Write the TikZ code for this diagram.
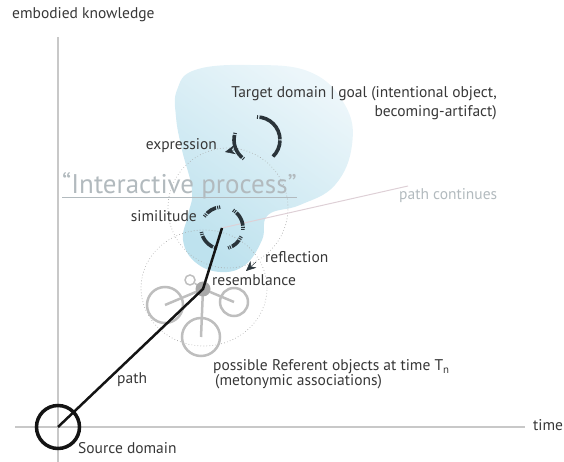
\documentclass[tikz,border=0pt]{standalone}
\usepackage{fontspec}
\setmainfont{PT Sans}
\usetikzlibrary{arrows.meta, positioning}

\definecolor{inkdark}{RGB}{42,52,58}
\definecolor{axisgray}{RGB}{200,200,200}
\definecolor{refgray}{RGB}{190,190,190}
\definecolor{hubgray}{RGB}{168,168,168}
\definecolor{blobtop}{RGB}{236,246,250}
\definecolor{blobbottom}{RGB}{190,226,238}
\definecolor{labelgray}{RGB}{55,55,55}
\definecolor{softgray}{RGB}{178,186,190}
\definecolor{pinkgray}{RGB}{222,208,214}

\begin{document}
\begin{tikzpicture}[
    x=1pt, y=1pt,
    axis/.style={draw=axisgray, line width=1.6pt},
    dotring/.style={draw=gray!70, line width=0.9pt, dash pattern=on 0pt off 3pt, line cap=round},
    refobj/.style={draw=refgray, circle, line width=2.5pt, inner sep=0pt},
    refline/.style={draw=refgray, line width=2.5pt},
    arcstroke/.style={draw=inkdark, line width=3.6pt},
    trail/.style={draw=black!92, line width=2.5pt},
    tip/.style={-{Stealth[length=10pt, width=9pt]}, draw=inkdark, line width=0.5pt},
    lbl/.style={font=\fontsize{15.5}{18}\selectfont, text=labelgray, inner sep=0pt}
]
    \useasboundingbox (0,0) rectangle (564,462);

    % --- Target domain blob ---
    \shade[top color=blobtop, bottom color=blobbottom, shading angle=-35] plot[smooth cycle, tension=0.7] coordinates {
        (177,372) (195,392) (250,397) (310,390) (345,357) (352,317) (335,277)
        (300,257) (268,247) (262,222) (245,197) (220,190) (195,200) (183,222)
        (188,247) (192,272) (182,312) (176,345)};

    % --- Axes ---
    \coordinate (yBot) at (58,0);
    \coordinate (yTop) at (58,425);
    \coordinate (xLeft) at (15,35);
    \coordinate (xRight) at (525,35);
    \draw[axis] (yBot) -- (yTop);
    \draw[axis] (xLeft) -- (xRight);

    % --- Dotted rings ---
    \coordinate (ringc) at (228,254);
    \draw[dotring] (ringc) circle[radius=60];
    \coordinate (refc) at (204,174);
    \draw[dotring] (refc) ellipse[x radius=63, y radius=58];

    % --- Path continues ---
    \coordinate (simc) at (222,234);
    \coordinate (pathend) at (408,276);
    \draw[pinkgray, line width=1pt] (simc) -- (pathend);

    % --- Referent objects ---
    \node[refobj, minimum size=36pt] (refL) at (165,157) {};
    \node[refobj, minimum size=28pt] (refR) at (234,160) {};
    \node[refobj, minimum size=38pt] (refB) at (201,125) {};
    \node[refobj, minimum size=10pt, line width=1.5pt] (refS) at (190,182) {};
    \coordinate (hubc) at (203,173);
    \draw[refline] (hubc) -- (refL.center);
    \draw[refline] (hubc) -- (refR.center);
    \draw[refline] (hubc) -- (refB.center);
    \draw[refline, line width=1.5pt] (hubc) -- (refS);
    \node[circle, fill=hubgray, minimum size=15pt, inner sep=0pt] (hub) at (hubc) {};

    % --- Similitude circle ---
    \draw[arcstroke, dash pattern=on 1pt off 1pt on 1pt off 1.2pt on 10.6pt off 1.2pt on 1pt off 1pt on 1pt]
        (simc) ++(95:21) arc[start angle=95, end angle=147, radius=21];
    \draw[arcstroke, dash pattern=on 1pt off 1pt on 1pt off 1.2pt on 14.7pt off 1.2pt on 1pt off 1pt on 1pt]
        (simc) ++(58:21) arc[start angle=58, end angle=-5, radius=21];
    \draw[arcstroke, dash pattern=on 1pt off 1pt on 1pt off 1.2pt on 9.6pt off 1.2pt on 1pt off 1pt on 1pt]
        (simc) ++(-24:21) arc[start angle=-24, end angle=-73, radius=21];
    \draw[arcstroke, dash pattern=on 1pt off 1pt on 1pt off 1.2pt on 15.4pt off 1.2pt on 1pt off 1pt on 1pt]
        (simc) ++(191:21) arc[start angle=191, end angle=256, radius=21];

    % --- Expression circle ---
    \coordinate (expc) at (257,322);
    \draw[arcstroke, dash pattern=on 1pt off 1.5pt on 33pt off 1pt on 18pt off 1.2pt on 1pt]
        (expc) ++(90:23) arc[start angle=90, end angle=-48, radius=23];
    \draw[arcstroke, dash pattern=on 1pt off 1.2pt on 25pt off 1.2pt on 1pt]
        (expc) ++(162:23) arc[start angle=162, end angle=235, radius=23];

    % arrow tips on the rings
    \coordinate (expfrom) at (238,313);
    \coordinate (expto) at (225,310);
    \draw[tip] (expfrom) -- (expto);
    \coordinate (reffrom) at (256,200);
    \coordinate (refto) at (246,191);
    \draw[tip] (reffrom) -- (refto);

    % --- Source domain and path ---
    \node[draw=black!92, circle, line width=3.5pt, minimum size=43pt, inner sep=0pt] (source) at (58,35) {};
    \draw[trail] (source.center) -- (hub.center) -- (simc);

    % --- Labels ---
    \node[lbl, anchor=base west] (ylabel) at (12,443) {embodied knowledge};
    \node[lbl, anchor=base west] (xlabel) at (533,31) {time};
    \node[lbl, anchor=base west] (srclbl) at (78,8) {Source domain};
    \node[lbl, anchor=base west] (pathlbl) at (117,78) {path};
    \node[lbl, anchor=base west] (reflbl) at (213,91) {possible Referent objects at time T\textsubscript{n}};
    \node[lbl, anchor=base west] (metolbl) at (215,76) {(metonymic associations)};
    \node[lbl, anchor=base west] (resemlbl) at (212,176) {resemblance};
    \node[lbl, anchor=base west] (refllbl) at (265,199) {reflection};
    \node[lbl, anchor=base east] (simlbl) at (197,240) {similitude};
    \node[lbl, anchor=base east] (explbl) at (217,312) {expression};
    \node[lbl, anchor=base east] (tgtlbl) at (497,364) {Target domain | goal (intentional object,};
    \node[lbl, anchor=base east] (tgtlbl2) at (497,345) {becoming-artifact)};
    \node[lbl, anchor=base west, text=softgray] (contlbl) at (399,262) {path continues};
    \node[lbl, anchor=base west, text=softgray, font=\fontsize{27}{31}\selectfont] (process) at (62,268) {“Interactive process”};
    \draw[softgray, line width=1pt] ([yshift=-4pt]process.base west) -- ([yshift=-4pt]process.base east);

\end{tikzpicture}
\end{document}
